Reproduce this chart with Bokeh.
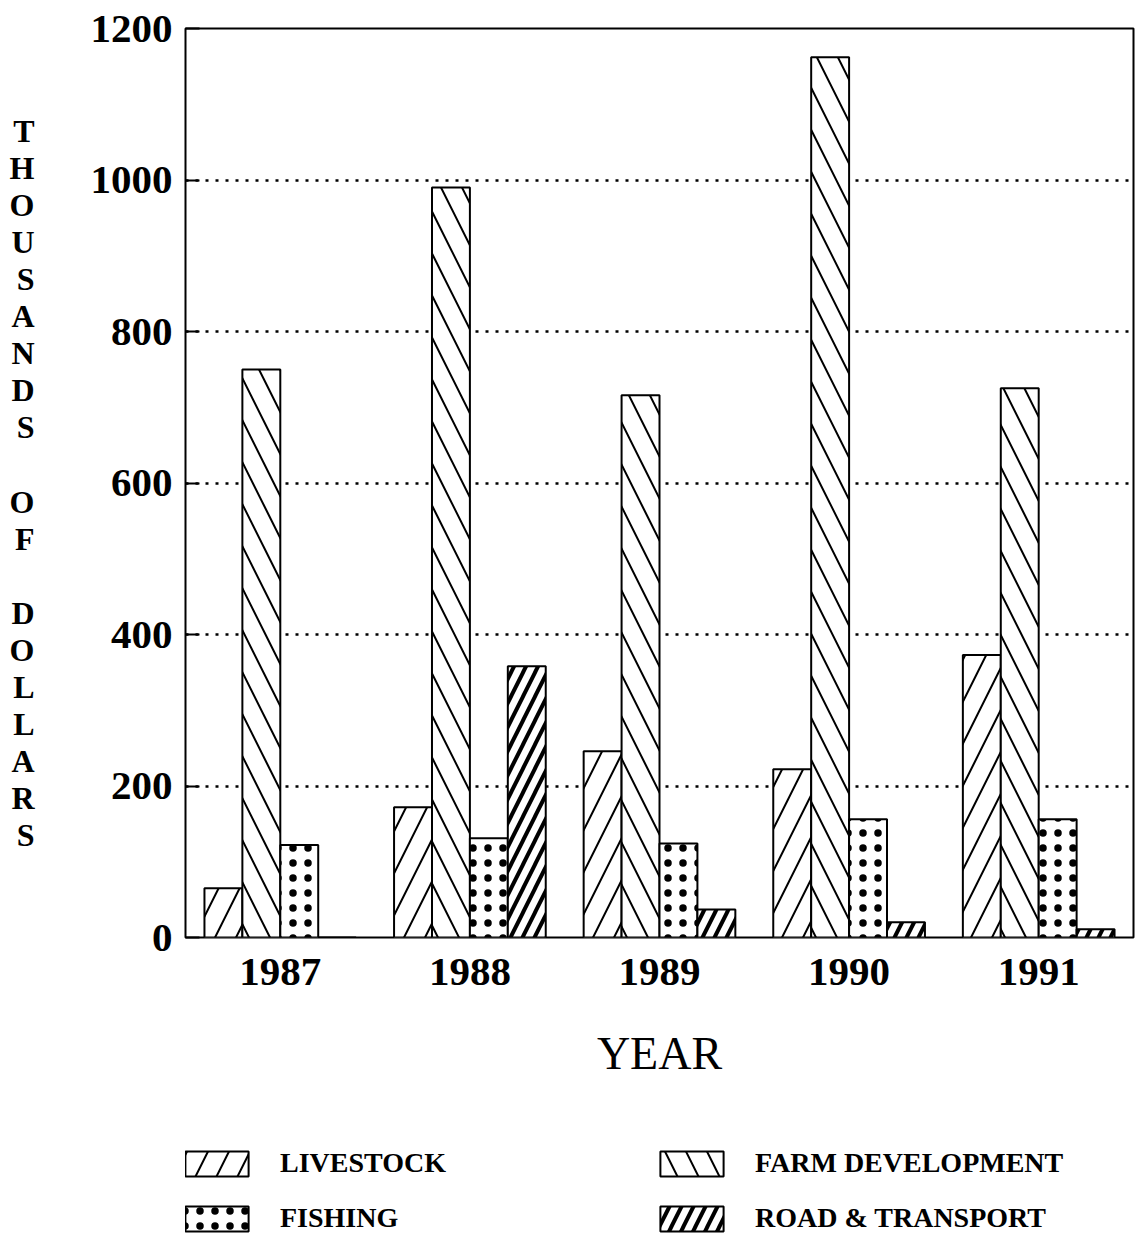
from bokeh.plotting import figure
from bokeh.layouts import column
from bokeh.models import (Range1d, FactorRange, Legend, LegendItem,
                          FixedTicker, ColumnDataSource)
from bokeh.transform import dodge
from bokeh.embed import file_html
from bokeh.resources import INLINE

# ---- data ----
years = ["1987", "1988", "1989", "1990", "1991"]
livestock = [65, 172, 246, 222, 373]
farm_development = [750, 990, 716, 1162, 725]
fishing = [122, 131, 124, 156, 156]
road_transport = [0, 358, 37, 20, 11]
series_names = ["LIVESTOCK", "FARM DEVELOPMENT", "FISHING", "ROAD & TRANSPORT"]
y_ticks = [0, 200, 400, 600, 800, 1000, 1200]
y_title = "THOUSANDS OF DOLLARS"
x_title = "YEAR"

FONT = "Liberation Serif"

src = ColumnDataSource(dict(year=years, livestock=livestock, farm=farm_development,
                            fishing=fishing, road=road_transport))

# (column, dodge offset, hatch pattern, hatch scale, hatch weight)
styles = [("livestock", -0.3, "/", 42, 2),
          ("farm", -0.1, "\\", 42, 2),
          ("fishing", 0.1, ".", 15, 1),
          ("road", 0.3, "/", 24, 4)]


def add_bars(fig, visible=True):
    rs = []
    for col, off, pat, scale, weight in styles:
        r = fig.vbar(x=dodge("year", off, range=fig.x_range), top=col, width=0.2,
                     source=src, fill_color="white", line_color="black", line_width=2,
                     hatch_pattern=pat, hatch_color="black", hatch_scale=scale,
                     hatch_weight=weight, visible=visible)
        rs.append(r)
    return rs


p = figure(frame_width=948, frame_height=909,
           x_range=FactorRange(factors=years, range_padding=0),
           y_range=Range1d(0, 1200),
           output_backend="svg", toolbar_location=None,
           min_border_left=185, min_border_right=3, min_border_top=28,
           min_border_bottom=163)
p.background_fill_color = "white"
p.border_fill_color = "white"
add_bars(p)

# y axis
p.yaxis.ticker = FixedTicker(ticks=y_ticks)
p.yaxis.major_tick_in = 14
p.yaxis.major_tick_out = 0
p.yaxis.major_tick_line_width = 2
p.yaxis.major_tick_line_color = "black"
p.yaxis.minor_tick_line_color = None
p.yaxis.axis_line_color = None
p.yaxis.major_label_standoff = 13
p.yaxis.major_label_text_font = FONT
p.yaxis.major_label_text_font_style = "bold"
p.yaxis.major_label_text_font_size = "41px"
p.yaxis.major_label_text_color = "black"
p.yaxis.axis_label = "\n".join(y_title)
p.yaxis.axis_label_orientation = "horizontal"
p.yaxis.axis_label_text_font = FONT
p.yaxis.axis_label_text_font_style = "bold"
p.yaxis.axis_label_text_font_size = "32px"
p.yaxis.axis_label_text_line_height = 1.03
p.yaxis.axis_label_text_color = "black"
p.yaxis.axis_label_standoff = 53

# x axis
p.xaxis.major_tick_line_color = None
p.xaxis.minor_tick_line_color = None
p.xaxis.axis_line_color = None
p.xaxis.major_label_standoff = 15
p.xaxis.major_label_text_font = FONT
p.xaxis.major_label_text_font_style = "bold"
p.xaxis.major_label_text_font_size = "41px"
p.xaxis.major_label_text_color = "black"
p.xaxis.axis_label = x_title
p.xaxis.axis_label_text_font = FONT
p.xaxis.axis_label_text_font_style = "normal"
p.xaxis.axis_label_text_font_size = "46px"
p.xaxis.axis_label_text_color = "black"
p.xaxis.axis_label_standoff = 40

p.xgrid.grid_line_color = None
p.ygrid.grid_line_color = "black"
p.ygrid.grid_line_dash = "3 7"
p.ygrid.grid_line_width = 2.5

p.outline_line_color = "black"
p.outline_line_width = 2
p.outline_line_alpha = 1

# ---- legend strip: a second figure (frame aligned with the chart's frame) ----
q = figure(width=1136, height=144,
           x_range=FactorRange(factors=years, range_padding=0),
           y_range=Range1d(0, 1200),
           output_backend="svg", toolbar_location=None,
           min_border_left=0, min_border_right=0, min_border_top=0,
           min_border_bottom=0)
q.axis.visible = False
q.grid.visible = False
q.outline_line_color = None
q.background_fill_color = "white"
q.border_fill_color = "white"
legend_renderers = add_bars(q, visible=False)

legend = Legend(items=[LegendItem(label=n, renderers=[r])
                       for n, r in zip(series_names, legend_renderers)],
                orientation="horizontal", ncols=2, location=(-8, 10),
                glyph_width=79, glyph_height=31, label_standoff=24,
                label_width=349, label_height=25, spacing=23,
                padding=0, margin=0, border_line_color=None,
                background_fill_alpha=0,
                label_text_font=FONT, label_text_font_style="bold",
                label_text_font_size="28px", label_text_color="black")
q.add_layout(legend)

layout = column(p, q, spacing=0)
open("out.html", "w").write(file_html(layout, INLINE))
